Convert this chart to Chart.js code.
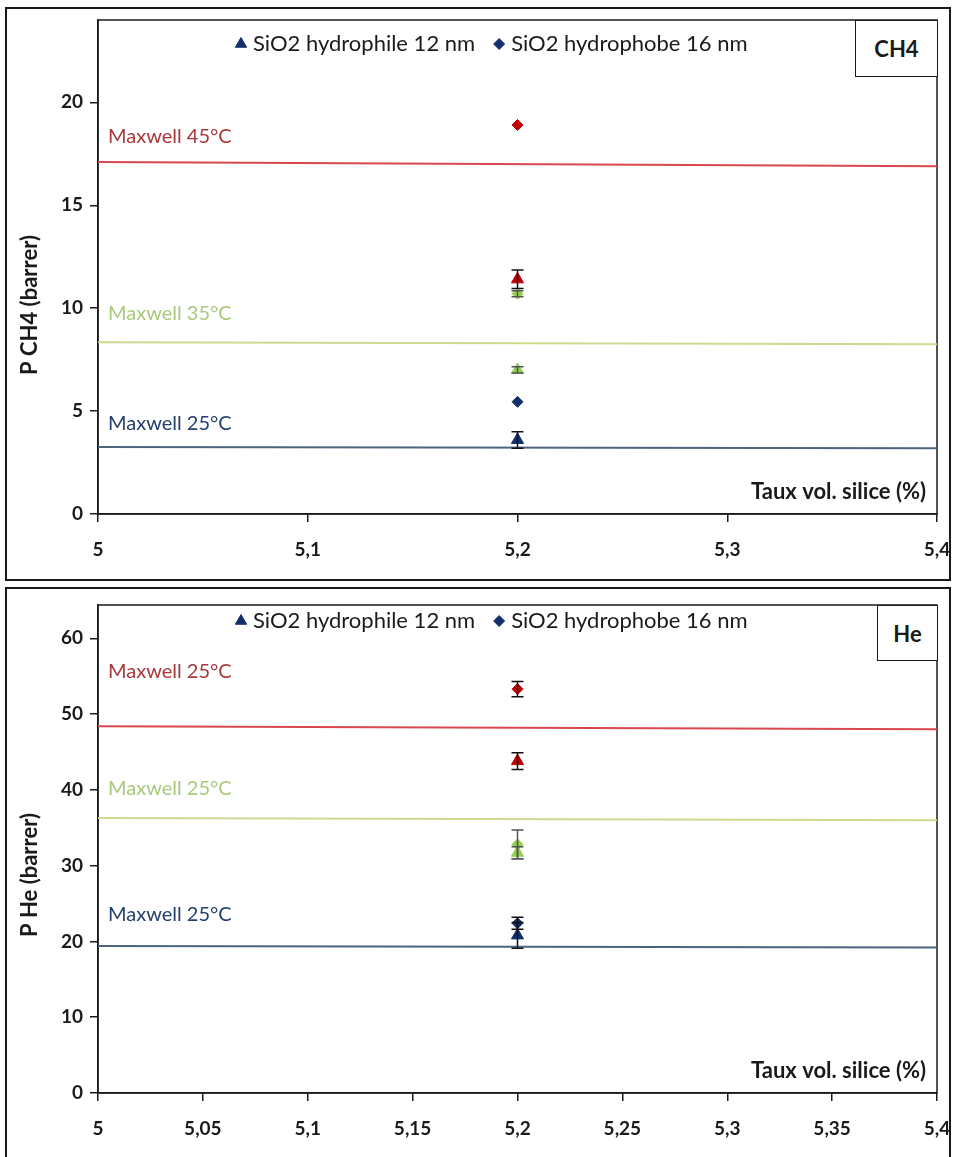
<!DOCTYPE html>
<html>
<head>
<meta charset="utf-8">
<script src="https://cdn.jsdelivr.net/npm/chart.js@4.4.1/dist/chart.umd.min.js"></script>
<style>
  body { margin: 0; background: #fff; }
  #page { position: relative; width: 958px; height: 1157px; overflow: hidden; }
  .panel { position: absolute; left: 0; width: 958px; }
  .frame { position: absolute; border: 2px solid #1a1a1a; pointer-events: none; }
  .gas { position: absolute; box-sizing: border-box; border: 1.5px solid #1a1a1a; background: #fff;
         font: bold 22px Lato, sans-serif; color: #1a1a1a; display: flex; align-items: center; justify-content: center; }
</style>
</head>
<body>
<div id="page">
  <div class="panel" style="top:0;height:584px"><canvas id="ch4Chart"></canvas></div>
  <div class="panel" style="top:584px;height:573px"><canvas id="heChart"></canvas></div>
  <div class="frame" style="left:5px;top:7px;width:942px;height:570px"></div>
  <div class="frame" style="left:5px;top:587px;width:942px;height:580px"></div>
  <div class="gas" style="left:855px;top:20px;width:83px;height:57px">CH4</div>
  <div class="gas" style="left:877px;top:605px;width:61px;height:56px">He</div>
</div>
<script>
// silica loading, same for every sample
var silica = 5.2;
var xMin = 5, xMax = 5.4;

// CH4 permeability (barrer), index 0 = 25°C, 1 = 35°C, 2 = 45°C
var ch4Hydrophile = [3.6, 7.0, 11.4];
var ch4HydrophileErr = [0.4, 0.15, 0.45];
var ch4Hydrophobe = [5.45, 10.7, 18.9];
var ch4HydrophobeErr = [0, 0.15, 0];
var ch4MaxwellStart = [3.25, 8.35, 17.1];
var ch4MaxwellEnd = [3.2, 8.25, 16.9];
var ch4MaxwellText = ["Maxwell 25°C", "Maxwell 35°C", "Maxwell 45°C"];
var ch4MaxwellTextAt = [4.4, 9.75, 18.35];

// He permeability (barrer)
var heHydrophile = [20.8, 31.7, 43.8];
var heHydrophileErr = [1.7, 0.8, 1.1];
var heHydrophobe = [22.4, 32.8, 53.3];
var heHydrophobeErr = [0.8, 1.9, 1.0];
var heMaxwellStart = [19.4, 36.3, 48.4];
var heMaxwellEnd = [19.2, 36.0, 48.0];
var heMaxwellText = ["Maxwell 25°C", "Maxwell 25°C", "Maxwell 25°C"];
var heMaxwellTextAt = [23.6, 40.2, 55.6];

var legendText = ["SiO2 hydrophile 12 nm", "SiO2 hydrophobe 16 nm"];
var xTitle = "Taux vol. silice (%)";

var markerColors = ["#13306b", "#92d050", "#c00000"];
var lineColors = ["#4d6480", "#c9dc8f", "#d9474f"];
var textColors = ["#24406e", "#a9c97c", "#a8383c"];
var errColors = ["#111", "#555", "#111"];

var FONT = 'Lato, "Open Sans", sans-serif';
Chart.defaults.font.family = FONT;
Chart.defaults.color = "#1a1a1a";

var plotFrame = {
  id: "plotFrame",
  beforeDatasetsDraw: function (chart) {
    var a = chart.chartArea, ctx = chart.ctx;
    ctx.save();
    ctx.strokeStyle = "#1a1a1a";
    ctx.lineWidth = 1.5;
    ctx.strokeRect(a.left, a.top, a.right - a.left, a.bottom - a.top);
    ctx.restore();
  }
};

var errorBars = {
  id: "errorBars",
  afterDatasetsDraw: function (chart) {
    var ctx = chart.ctx, ys = chart.scales.y;
    chart.data.datasets.forEach(function (ds, i) {
      if (!ds.errors) return;
      var meta = chart.getDatasetMeta(i);
      ds.data.forEach(function (p, j) {
        var e = ds.errors[j];
        if (!e) return;
        var x = meta.data[j].x;
        var y1 = ys.getPixelForValue(p.y + e), y2 = ys.getPixelForValue(p.y - e);
        ctx.save();
        ctx.strokeStyle = ds.errorColor;
        ctx.lineWidth = 1.5;
        ctx.beginPath();
        ctx.moveTo(x, y1); ctx.lineTo(x, y2);
        ctx.moveTo(x - 6, y1); ctx.lineTo(x + 6, y1);
        ctx.moveTo(x - 6, y2); ctx.lineTo(x + 6, y2);
        ctx.stroke();
        ctx.restore();
      });
    });
  }
};

// Maxwell labels, in-plot legend, in-plot x title and shifted y title
var notes = {
  id: "notes",
  afterDraw: function (chart, args, opts) {
    var ctx = chart.ctx, a = chart.chartArea, ys = chart.scales.y;
    ctx.save();
    ctx.font = "20px " + FONT;
    ctx.textBaseline = "middle";
    ctx.textAlign = "left";
    opts.text.forEach(function (t, i) {
      ctx.fillStyle = textColors[i];
      ctx.fillText(t, a.left + 10, ys.getPixelForValue(opts.at[i]));
    });

    // legend: the two 25°C series
    var ly = a.top + opts.legendDy, lx = a.left + 143;
    ctx.font = "22px " + FONT;
    [0, 1].forEach(function (k) {
      var ds = chart.data.datasets[k];
      ctx.fillStyle = ds.backgroundColor;
      ctx.strokeStyle = ds.borderColor;
      ctx.lineWidth = 1;
      Chart.helpers.drawPoint(ctx, { pointStyle: ds.pointStyle, radius: k === 0 ? 6.5 : 5.5, rotation: 0, borderWidth: 1 }, lx, ly);
      ctx.fillStyle = "#1a1a1a";
      ctx.fillText(ds.label, lx + 12, ly);
      lx += 12 + ctx.measureText(ds.label).width + 24;
    });

    ctx.font = "bold 22px " + FONT;
    ctx.textAlign = "right";
    ctx.fillStyle = "#1a1a1a";
    ctx.fillText(xTitle, a.right - 11, a.bottom - 22);

    ctx.translate(30, (a.top + a.bottom) / 2 + opts.titleDy);
    ctx.rotate(-Math.PI / 2);
    ctx.textAlign = "center";
    ctx.fillText(opts.yTitle, 0, 0);
    ctx.restore();
  }
};

function fmt(v) {
  return String(Math.round(v * 100) / 100).replace(".", ",");
}

function buildDatasets(phile, phileErr, phobe, phobeErr, mStart, mEnd) {
  var sets = [];
  for (var i = 0; i < 3; i++) {
    sets.push({
      label: i === 0 ? legendText[0] : "",
      data: [{ x: silica, y: phile[i] }],
      errors: [phileErr[i]],
      errorColor: errColors[i],
      pointStyle: "triangle",
      pointRadius: 7,
      backgroundColor: markerColors[i],
      borderColor: markerColors[i],
      borderWidth: 1
    });
    sets.push({
      label: i === 0 ? legendText[1] : "",
      data: [{ x: silica, y: phobe[i] }],
      errors: [phobeErr[i]],
      errorColor: errColors[i],
      pointStyle: "rectRot",
      pointRadius: 5.5,
      backgroundColor: markerColors[i],
      borderColor: markerColors[i],
      borderWidth: 1
    });
  }
  for (var k = 0; k < 3; k++) {
    sets.push({
      label: "",
      type: "line",
      data: [{ x: xMin, y: mStart[k] }, { x: xMax, y: mEnd[k] }],
      borderColor: lineColors[k],
      borderWidth: 2,
      pointRadius: 0,
      fill: false
    });
  }
  return sets;
}

function makeChart(id, o) {
  return new Chart(document.getElementById(id), {
    type: "scatter",
    data: { datasets: o.datasets },
    options: {
      responsive: true,
      maintainAspectRatio: false,
      animation: false,
      layout: { padding: { top: o.top, right: 21, left: 0, bottom: 0 } },
      plugins: {
        legend: { display: false },
        tooltip: { enabled: false },
        notes: { text: o.noteText, at: o.noteAt, legendDy: o.legendDy, yTitle: o.yTitle, titleDy: o.titleDy }
      },
      scales: {
        x: {
          type: "linear",
          min: xMin,
          max: xMax,
          ticks: { stepSize: o.xStep, autoSkip: false, padding: 16, font: { size: 19, weight: "bold" }, callback: fmt },
          grid: { drawOnChartArea: false, tickLength: 8, color: "#1a1a1a", lineWidth: 1.5 },
          border: { color: "#1a1a1a", width: 1.5 },
          afterFit: function (s) { s.height = o.xHeight; s.paddingLeft = 0; s.paddingRight = 0; }
        },
        y: {
          min: 0,
          max: o.yMax,
          ticks: { stepSize: o.yStep, includeBounds: false, padding: 7, font: { size: 19, weight: "bold" } },
          grid: { drawOnChartArea: false, tickLength: 8, color: "#1a1a1a", lineWidth: 1.5 },
          border: { color: "#1a1a1a", width: 1.5 },
          afterFit: function (s) { s.width = 98; s.paddingTop = 0; s.paddingBottom = 0; }
        }
      }
    },
    plugins: [plotFrame, errorBars, notes]
  });
}

makeChart("ch4Chart", {
  datasets: buildDatasets(ch4Hydrophile, ch4HydrophileErr, ch4Hydrophobe, ch4HydrophobeErr, ch4MaxwellStart, ch4MaxwellEnd),
  top: 20, xHeight: 70, xStep: 0.1, yMax: 24, yStep: 5, legendDy: 24, titleDy: 38,
  yTitle: "P CH4 (barrer)", noteText: ch4MaxwellText, noteAt: ch4MaxwellTextAt
});

makeChart("heChart", {
  datasets: buildDatasets(heHydrophile, heHydrophileErr, heHydrophobe, heHydrophobeErr, heMaxwellStart, heMaxwellEnd),
  top: 21, xHeight: 64, xStep: 0.05, yMax: 64.4, yStep: 10, legendDy: 16, titleDy: 26,
  yTitle: "P He (barrer)", noteText: heMaxwellText, noteAt: heMaxwellTextAt
});
</script>
</body>
</html>
